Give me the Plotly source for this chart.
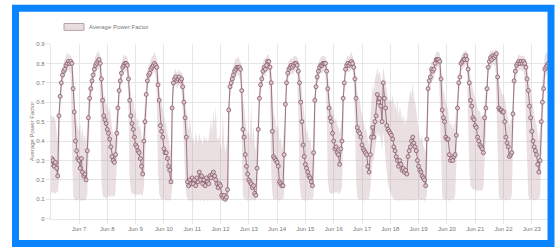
import pandas as pd
import plotly.graph_objects as go

# ---------------- data (hourly, starting 2023-06-06 00:00) ----------------
start_time = "2023-06-06 00:00"

mean_jun06 = [0.28,0.31,0.30,0.27,0.29,0.26,0.22,0.53,0.63,0.70,0.74,0.76,0.77,0.79,0.80,0.81,0.80,0.81,0.80,0.67,0.55,0.40,0.35,0.31]
mean_jun07 = [0.30,0.26,0.31,0.24,0.22,0.23,0.20,0.35,0.52,0.62,0.67,0.71,0.74,0.77,0.79,0.80,0.81,0.82,0.80,0.72,0.61,0.53,0.51,0.49]
mean_jun08 = [0.46,0.44,0.41,0.37,0.32,0.30,0.29,0.33,0.44,0.57,0.66,0.71,0.75,0.78,0.79,0.80,0.80,0.79,0.72,0.61,0.53,0.49,0.46,0.42]
mean_jun09 = [0.38,0.37,0.35,0.34,0.31,0.27,0.23,0.40,0.50,0.64,0.71,0.74,0.75,0.77,0.78,0.79,0.80,0.79,0.78,0.69,0.61,0.48,0.45,0.42]
mean_jun10 = [0.36,0.34,0.34,0.31,0.27,0.25,0.19,0.57,0.70,0.72,0.73,0.71,0.72,0.73,0.71,0.72,0.68,0.60,0.52,0.42,0.19,0.17,0.20,0.18]
mean_jun11 = [0.21,0.18,0.20,0.17,0.21,0.19,0.24,0.20,0.22,0.18,0.20,0.17,0.21,0.19,0.18,0.22,0.21,0.23,0.24,0.22,0.20,0.18,0.16,0.18]
mean_jun12 = [0.17,0.12,0.11,0.12,0.10,0.11,0.15,0.56,0.68,0.70,0.72,0.74,0.76,0.77,0.78,0.78,0.78,0.77,0.66,0.46,0.42,0.33,0.27,0.23]
mean_jun13 = [0.20,0.19,0.18,0.16,0.17,0.13,0.12,0.26,0.46,0.62,0.69,0.72,0.76,0.78,0.77,0.79,0.81,0.81,0.78,0.70,0.45,0.32,0.31,0.30]
mean_jun14 = [0.29,0.27,0.19,0.18,0.17,0.17,0.33,0.59,0.70,0.75,0.77,0.78,0.79,0.78,0.79,0.80,0.80,0.79,0.76,0.70,0.60,0.50,0.38,0.32]
mean_jun15 = [0.28,0.26,0.24,0.22,0.21,0.19,0.17,0.34,0.61,0.68,0.73,0.76,0.78,0.79,0.79,0.80,0.80,0.80,0.76,0.67,0.57,0.52,0.50,0.44]
mean_jun16 = [0.40,0.36,0.37,0.34,0.33,0.28,0.36,0.40,0.62,0.70,0.77,0.79,0.80,0.79,0.80,0.81,0.80,0.78,0.72,0.62,0.47,0.45,0.44,0.42]
mean_jun17 = [0.38,0.36,0.35,0.34,0.33,0.27,0.24,0.33,0.42,0.47,0.42,0.50,0.53,0.64,0.60,0.62,0.58,0.50,0.70,0.62,0.57,0.48,0.46,0.45]
mean_jun18 = [0.44,0.43,0.41,0.37,0.35,0.32,0.30,0.27,0.30,0.28,0.25,0.26,0.24,0.25,0.23,0.32,0.35,0.37,0.40,0.42,0.39,0.37,0.35,0.30]
mean_jun19 = [0.27,0.25,0.24,0.22,0.21,0.20,0.17,0.41,0.67,0.71,0.73,0.77,0.76,0.77,0.80,0.82,0.82,0.82,0.81,0.72,0.56,0.52,0.50,0.42]
mean_jun20 = [0.41,0.41,0.33,0.30,0.31,0.30,0.32,0.33,0.43,0.57,0.70,0.73,0.80,0.81,0.82,0.82,0.84,0.82,0.77,0.70,0.61,0.58,0.52,0.51]
mean_jun21 = [0.48,0.47,0.42,0.40,0.38,0.37,0.36,0.34,0.52,0.57,0.67,0.78,0.81,0.83,0.82,0.84,0.83,0.84,0.85,0.73,0.57,0.56,0.56,0.55]
mean_jun22 = [0.55,0.50,0.42,0.39,0.37,0.32,0.33,0.34,0.54,0.71,0.76,0.79,0.80,0.81,0.80,0.81,0.80,0.81,0.80,0.78,0.72,0.66,0.58,0.52]
mean_jun23 = [0.45,0.40,0.37,0.35,0.33,0.28,0.24,0.30,0.50,0.60,0.67,0.77,0.78,0.79,0.80]

upper_jun06 = [0.53,0.53,0.52,0.53,0.50,0.46,0.40,0.60,0.68,0.74,0.78,0.80,0.82,0.83,0.86,0.84,0.85,0.84,0.83,0.78,0.62,0.55,0.50,0.47]
upper_jun07 = [0.45,0.50,0.42,0.48,0.40,0.44,0.38,0.52,0.62,0.68,0.72,0.76,0.79,0.82,0.84,0.85,0.86,0.86,0.84,0.80,0.68,0.62,0.64,0.58]
upper_jun08 = [0.60,0.55,0.58,0.50,0.47,0.44,0.42,0.48,0.55,0.66,0.72,0.76,0.80,0.83,0.85,0.84,0.84,0.83,0.80,0.70,0.66,0.60,0.62,0.56]
upper_jun09 = [0.55,0.50,0.52,0.47,0.48,0.42,0.38,0.52,0.60,0.70,0.76,0.79,0.80,0.82,0.84,0.84,0.86,0.84,0.82,0.76,0.68,0.62,0.60,0.56]
upper_jun10 = [0.52,0.50,0.48,0.44,0.42,0.38,0.34,0.62,0.74,0.76,0.77,0.75,0.76,0.77,0.75,0.76,0.74,0.70,0.62,0.55,0.50,0.45,0.52,0.44]
upper_jun11 = [0.40,0.42,0.38,0.45,0.40,0.39,0.44,0.41,0.40,0.38,0.43,0.40,0.42,0.39,0.41,0.46,0.52,0.44,0.56,0.48,0.58,0.42,0.40,0.44]
upper_jun12 = [0.38,0.36,0.55,0.40,0.34,0.38,0.42,0.62,0.73,0.75,0.77,0.79,0.81,0.83,0.82,0.84,0.82,0.81,0.78,0.62,0.58,0.52,0.46,0.44]
upper_jun13 = [0.45,0.42,0.60,0.40,0.48,0.38,0.35,0.45,0.58,0.68,0.74,0.77,0.80,0.83,0.82,0.84,0.85,0.84,0.82,0.78,0.62,0.55,0.52,0.48]
upper_jun14 = [0.45,0.50,0.40,0.42,0.36,0.40,0.48,0.66,0.75,0.79,0.81,0.82,0.83,0.82,0.84,0.84,0.84,0.83,0.82,0.78,0.70,0.66,0.60,0.52]
upper_jun15 = [0.48,0.44,0.46,0.40,0.42,0.36,0.34,0.50,0.68,0.74,0.78,0.80,0.82,0.83,0.84,0.84,0.84,0.83,0.82,0.75,0.64,0.60,0.58,0.56]
upper_jun16 = [0.55,0.50,0.52,0.48,0.47,0.44,0.48,0.52,0.68,0.75,0.81,0.83,0.84,0.83,0.85,0.86,0.84,0.82,0.80,0.72,0.64,0.60,0.62,0.56]
upper_jun17 = [0.54,0.50,0.48,0.46,0.45,0.40,0.38,0.50,0.62,0.70,0.65,0.72,0.74,0.78,0.74,0.76,0.72,0.70,0.78,0.74,0.70,0.64,0.62,0.60]
upper_jun18 = [0.62,0.60,0.64,0.58,0.60,0.55,0.62,0.52,0.58,0.55,0.50,0.54,0.48,0.52,0.50,0.58,0.62,0.66,0.64,0.70,0.62,0.60,0.56,0.50]
upper_jun19 = [0.45,0.42,0.40,0.44,0.38,0.36,0.34,0.55,0.72,0.76,0.78,0.81,0.81,0.82,0.84,0.86,0.86,0.86,0.85,0.80,0.72,0.66,0.64,0.60]
upper_jun20 = [0.58,0.56,0.50,0.48,0.50,0.46,0.48,0.50,0.58,0.66,0.75,0.78,0.84,0.85,0.86,0.86,0.87,0.86,0.84,0.78,0.72,0.70,0.66,0.64]
upper_jun21 = [0.62,0.60,0.58,0.55,0.56,0.52,0.54,0.50,0.62,0.66,0.74,0.82,0.85,0.87,0.86,0.87,0.86,0.87,0.88,0.82,0.70,0.68,0.66,0.64]
upper_jun22 = [0.64,0.62,0.58,0.55,0.52,0.48,0.50,0.52,0.64,0.76,0.80,0.82,0.84,0.85,0.84,0.84,0.84,0.84,0.83,0.82,0.78,0.74,0.68,0.64]
upper_jun23 = [0.60,0.56,0.52,0.50,0.48,0.44,0.40,0.46,0.62,0.72,0.78,0.84,0.86,0.85,0.86]

lower_jun06 = [0.14,0.13,0.14,0.13,0.13,0.14,0.13,0.20,0.55,0.65,0.70,0.72,0.74,0.75,0.76,0.77,0.76,0.74,0.40,0.12,0.10,0.10,0.09,0.10]
lower_jun07 = [0.10,0.09,0.10,0.09,0.10,0.09,0.10,0.12,0.30,0.52,0.60,0.66,0.70,0.73,0.75,0.76,0.77,0.77,0.60,0.20,0.12,0.11,0.11,0.10]
lower_jun08 = [0.11,0.12,0.11,0.12,0.11,0.12,0.11,0.14,0.28,0.45,0.58,0.65,0.70,0.74,0.75,0.76,0.76,0.74,0.55,0.20,0.14,0.13,0.13,0.12]
lower_jun09 = [0.13,0.12,0.13,0.12,0.13,0.12,0.12,0.16,0.30,0.55,0.65,0.70,0.71,0.73,0.74,0.75,0.76,0.74,0.60,0.25,0.13,0.11,0.10,0.10]
lower_jun10 = [0.10,0.10,0.09,0.10,0.10,0.09,0.10,0.15,0.62,0.68,0.69,0.67,0.68,0.69,0.67,0.66,0.55,0.35,0.20,0.12,0.10,0.09,0.10,0.09]
lower_jun11 = [0.10,0.09,0.10,0.10,0.09,0.10,0.10,0.09,0.10,0.10,0.09,0.10,0.10,0.09,0.10,0.10,0.09,0.10,0.10,0.09,0.10,0.10,0.09,0.10]
lower_jun12 = [0.10,0.09,0.09,0.10,0.09,0.09,0.10,0.12,0.62,0.66,0.68,0.70,0.72,0.73,0.74,0.74,0.73,0.70,0.40,0.12,0.10,0.10,0.10,0.09]
lower_jun13 = [0.10,0.10,0.09,0.10,0.10,0.09,0.10,0.11,0.25,0.55,0.64,0.68,0.72,0.74,0.73,0.75,0.77,0.76,0.60,0.25,0.12,0.10,0.10,0.10]
lower_jun14 = [0.10,0.10,0.09,0.10,0.10,0.10,0.12,0.35,0.64,0.70,0.73,0.74,0.75,0.74,0.75,0.76,0.76,0.74,0.55,0.20,0.12,0.10,0.10,0.09]
lower_jun15 = [0.10,0.10,0.09,0.10,0.10,0.10,0.10,0.12,0.45,0.63,0.69,0.72,0.74,0.75,0.75,0.76,0.76,0.75,0.55,0.20,0.14,0.13,0.13,0.13]
lower_jun16 = [0.13,0.14,0.13,0.14,0.13,0.13,0.14,0.16,0.40,0.64,0.72,0.75,0.76,0.75,0.76,0.77,0.76,0.72,0.50,0.20,0.11,0.10,0.10,0.10]
lower_jun17 = [0.10,0.10,0.09,0.10,0.10,0.10,0.10,0.15,0.25,0.30,0.30,0.35,0.38,0.45,0.42,0.44,0.40,0.35,0.45,0.40,0.30,0.22,0.18,0.15]
lower_jun18 = [0.14,0.12,0.11,0.10,0.10,0.09,0.10,0.10,0.09,0.10,0.10,0.09,0.10,0.10,0.10,0.09,0.10,0.10,0.09,0.10,0.10,0.09,0.10,0.10]
lower_jun19 = [0.10,0.10,0.09,0.10,0.10,0.09,0.10,0.12,0.50,0.66,0.68,0.72,0.71,0.72,0.76,0.78,0.78,0.78,0.60,0.25,0.11,0.10,0.10,0.09]
lower_jun20 = [0.10,0.10,0.09,0.10,0.10,0.10,0.10,0.12,0.25,0.45,0.64,0.68,0.76,0.77,0.78,0.78,0.80,0.77,0.55,0.25,0.17,0.16,0.15,0.15]
lower_jun21 = [0.15,0.14,0.15,0.14,0.15,0.14,0.15,0.16,0.30,0.48,0.60,0.73,0.77,0.79,0.78,0.80,0.79,0.79,0.60,0.25,0.12,0.10,0.10,0.10]
lower_jun22 = [0.10,0.10,0.09,0.10,0.10,0.10,0.10,0.12,0.35,0.62,0.70,0.74,0.76,0.77,0.76,0.77,0.76,0.76,0.70,0.50,0.25,0.12,0.10,0.10]
lower_jun23 = [0.10,0.10,0.09,0.10,0.10,0.10,0.10,0.12,0.30,0.50,0.60,0.72,0.74,0.75,0.76]

y_tick_values = [0, 0.1, 0.2, 0.3, 0.4, 0.5, 0.6, 0.7, 0.8, 0.9]
y_tick_labels = ["0", "0.1", "0.2", "0.3", "0.4", "0.5", "0.6", "0.7", "0.8", "0.9"]
x_tick_dates = ["2023-06-%02d" % d for d in range(7, 24)]
x_tick_labels = ["Jun %d" % d for d in range(7, 24)]
series_name = "Average Power Factor"

# ---------------- assemble ----------------
mean_all = (mean_jun06 + mean_jun07 + mean_jun08 + mean_jun09 + mean_jun10 + mean_jun11 +
            mean_jun12 + mean_jun13 + mean_jun14 + mean_jun15 + mean_jun16 + mean_jun17 +
            mean_jun18 + mean_jun19 + mean_jun20 + mean_jun21 + mean_jun22 + mean_jun23)
upper_all = (upper_jun06 + upper_jun07 + upper_jun08 + upper_jun09 + upper_jun10 + upper_jun11 +
             upper_jun12 + upper_jun13 + upper_jun14 + upper_jun15 + upper_jun16 + upper_jun17 +
             upper_jun18 + upper_jun19 + upper_jun20 + upper_jun21 + upper_jun22 + upper_jun23)
lower_all = (lower_jun06 + lower_jun07 + lower_jun08 + lower_jun09 + lower_jun10 + lower_jun11 +
             lower_jun12 + lower_jun13 + lower_jun14 + lower_jun15 + lower_jun16 + lower_jun17 +
             lower_jun18 + lower_jun19 + lower_jun20 + lower_jun21 + lower_jun22 + lower_jun23)
times = pd.date_range(start_time, periods=len(mean_all), freq="h")

W, H = 559, 250
def px(x):
    return x / W
def py(y):
    return 1 - y / H

band_color = "rgba(170,130,140,0.25)"
line_color = "#9a7480"
grid_color = "#e6e6e6"
text_color = "#777777"
font_family = "Liberation Sans, Arial, sans-serif"

fig = go.Figure()
fig.add_trace(go.Scatter(x=times, y=lower_all, mode="lines", line=dict(width=0, color=band_color),
                         hoverinfo="skip", showlegend=False))
fig.add_trace(go.Scatter(x=times, y=upper_all, mode="lines", line=dict(width=0, color=band_color),
                         fill="tonexty", fillcolor=band_color, hoverinfo="skip", showlegend=False))
fig.add_trace(go.Scatter(x=times, y=mean_all, mode="lines+markers", name=series_name,
                         line=dict(width=1, color=line_color),
                         marker=dict(size=4, color="#dcc6cb", line=dict(width=0.8, color="#85596a")),
                         showlegend=False))

fig.update_layout(
    width=W, height=H,
    margin=dict(l=0, r=0, t=0, b=0),
    paper_bgcolor="white", plot_bgcolor="white",
    font=dict(family=font_family, size=6, color=text_color),
    showlegend=False,
    xaxis=dict(
        domain=[px(50.7), px(551)],
        range=["2023-06-06 00:00", "2023-06-23 16:16"],
        tickvals=x_tick_dates, ticktext=x_tick_labels,
        showgrid=True, gridcolor=grid_color, gridwidth=1,
        ticks="outside", ticklen=4, tickcolor=grid_color,
        showline=True, linecolor=grid_color, zeroline=False,
        tickfont=dict(size=6, color=text_color),
    ),
    yaxis=dict(
        domain=[py(221), py(42)],
        range=[0, 0.9],
        tickvals=y_tick_values, ticktext=y_tick_labels,
        showgrid=True, gridcolor=grid_color, gridwidth=1,
        ticks="outside", ticklen=4, tickcolor=grid_color,
        showline=True, linecolor=grid_color, zeroline=False,
        tickfont=dict(size=6, color=text_color),
    ),
)

# y-axis title
fig.add_annotation(xref="paper", yref="paper", x=px(32), y=py(131.5), text=series_name,
                   showarrow=False, textangle=-90, font=dict(size=6, color=text_color),
                   xanchor="center", yanchor="middle")

# legend (box + label)
fig.add_shape(type="rect", xref="paper", yref="paper", x0=px(64), x1=px(84), y0=py(28), y1=py(21),
              fillcolor="#e9dde0", line=dict(color="#bb9fa6", width=1))
fig.add_annotation(xref="paper", yref="paper", x=px(87), y=py(24.5), text=series_name,
                   showarrow=False, font=dict(size=6, color=text_color),
                   xanchor="left", yanchor="middle")

# blue frame
fig.add_shape(type="rect", xref="paper", yref="paper", x0=px(15.5), x1=px(551), y0=py(246.5), y1=py(5.5),
              line=dict(color="#0b84ff", width=7), fillcolor="rgba(0,0,0,0)", layer="above")

fig.write_html("out.html", config={"displayModeBar": False},
               post_script="document.body.style.margin='0';document.body.style.overflow='hidden';")
